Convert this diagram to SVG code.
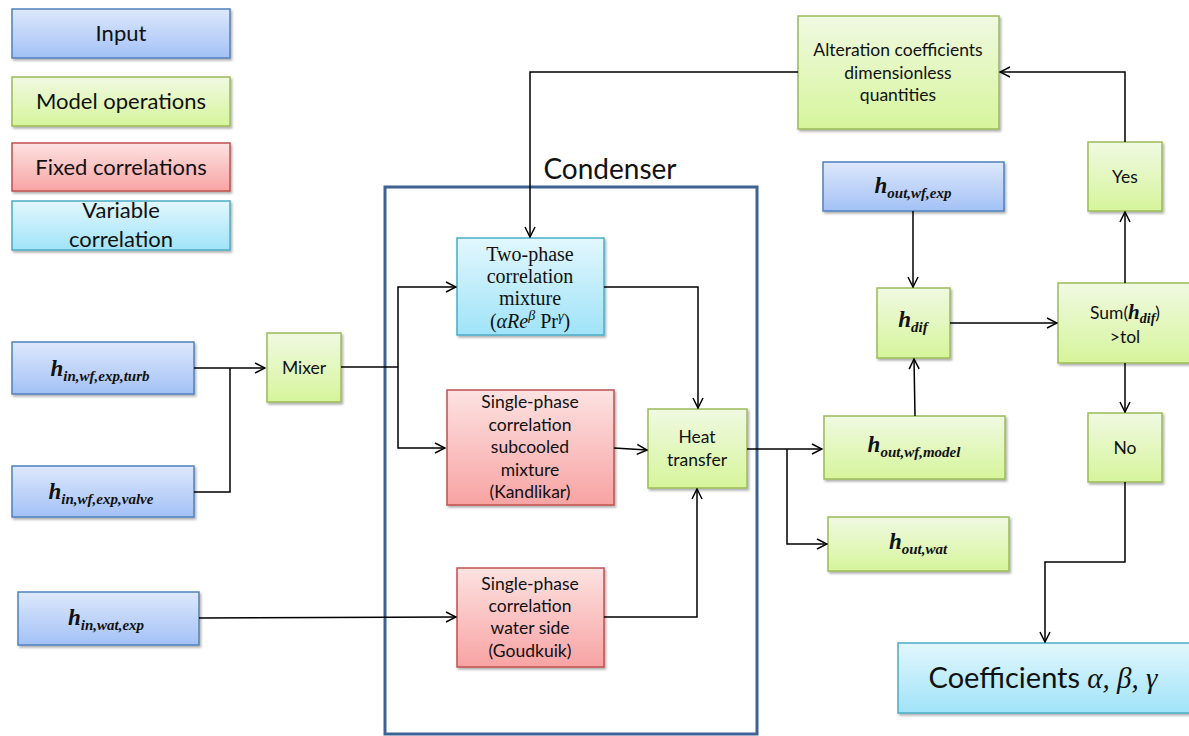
<svg xmlns="http://www.w3.org/2000/svg" width="1189" height="736" viewBox="0 0 1189 736">
<defs>
<linearGradient id="gBlue" x1="0" y1="0" x2="0" y2="1"><stop offset="0" stop-color="#dde8fc"/><stop offset="1" stop-color="#a3c1f6"/></linearGradient>
<linearGradient id="gGreen" x1="0" y1="0" x2="0" y2="1"><stop offset="0" stop-color="#f0f9e2"/><stop offset="1" stop-color="#d6f59b"/></linearGradient>
<linearGradient id="gRed" x1="0" y1="0" x2="0" y2="1"><stop offset="0" stop-color="#fde2e2"/><stop offset="1" stop-color="#f8a3a3"/></linearGradient>
<linearGradient id="gCyan" x1="0" y1="0" x2="0" y2="1"><stop offset="0" stop-color="#e2f7fd"/><stop offset="1" stop-color="#a0e3f8"/></linearGradient>
<filter id="sh" x="-10%" y="-10%" width="120%" height="130%"><feDropShadow dx="1.5" dy="2" stdDeviation="1.2" flood-color="#000" flood-opacity="0.3"/></filter>
<marker id="ar" viewBox="0 0 12 12" refX="11" refY="6" markerWidth="12" markerHeight="12" markerUnits="userSpaceOnUse" orient="auto"><path d="M1,1 L11,6 L1,11" fill="none" stroke="#000" stroke-width="1.5"/></marker>
</defs>
<style>
.b{fill:url(#gBlue);stroke:#4f81bd;stroke-width:1.5;filter:url(#sh)}
.g{fill:url(#gGreen);stroke:#9bbb59;stroke-width:1.5;filter:url(#sh)}
.r{fill:url(#gRed);stroke:#c0504d;stroke-width:1.5;filter:url(#sh)}
.c{fill:url(#gCyan);stroke:#4bacc6;stroke-width:1.5;filter:url(#sh)}
text{fill:#111}
.t{font-family:Lato,"Liberation Sans",sans-serif;font-size:17.5px;text-anchor:middle}
.lg{font-family:Lato,"Liberation Sans",sans-serif;font-size:22px;text-anchor:middle}
.sf{font-family:"Liberation Serif",serif;font-size:20px;text-anchor:middle}
.m{font-family:"Liberation Serif",serif;font-weight:bold;font-style:italic;text-anchor:middle}
.mh{font-size:23px}
.ms{font-size:15px}
.con path{fill:none;stroke:#000;stroke-width:1.5}
</style>
<rect width="1189" height="736" fill="#fff"/>

<g id="legend-input"><rect class="b" x="12" y="9" width="218" height="49"/><text class="lg" x="121" y="41">Input</text></g>
<g id="legend-model"><rect class="g" x="12" y="77" width="218" height="49"/><text class="lg" x="121" y="109">Model operations</text></g>
<g id="legend-fixed"><rect class="r" x="12" y="143" width="218" height="48"/><text class="lg" x="121" y="175">Fixed correlations</text></g>
<g id="legend-variable"><rect class="c" x="12" y="201" width="218" height="49"/><text class="lg" x="121" y="218">Variable</text><text class="lg" x="121" y="247">correlation</text></g>

<g id="condenser"><rect x="385" y="187" width="372" height="547" fill="none" stroke="#3f6294" stroke-width="3"/><text x="610" y="179" font-family="Lato,'Liberation Sans',sans-serif" font-size="28" text-anchor="middle">Condenser</text></g>

<g id="in-turb"><rect class="b" x="12" y="342" width="182" height="52"/><text class="m" x="100" y="376"><tspan class="mh">h</tspan><tspan class="ms" dy="5">in,wf,exp,turb</tspan></text></g>
<g id="in-valve"><rect class="b" x="12" y="466" width="182" height="51"/><text class="m" x="101" y="499"><tspan class="mh">h</tspan><tspan class="ms" dy="5">in,wf,exp,valve</tspan></text></g>
<g id="in-wat"><rect class="b" x="18" y="592" width="181" height="53"/><text class="m" x="106" y="625"><tspan class="mh">h</tspan><tspan class="ms" dy="5">in,wat,exp</tspan></text></g>
<g id="mixer"><rect class="g" x="267" y="333" width="74" height="69"/><text class="t" x="304" y="374" font-size="18.5">Mixer</text></g>

<g id="two-phase"><rect class="c" x="457" y="238" width="147" height="97"/>
<text class="sf" x="530" y="261">Two-phase</text><text class="sf" x="530" y="283">correlation</text><text class="sf" x="530" y="305">mixture</text>
<text class="sf" x="530" y="328">(<tspan font-style="italic">αRe</tspan><tspan font-style="italic" font-size="14" dy="-8">β</tspan><tspan dy="8"> Pr</tspan><tspan font-style="italic" font-size="14" dy="-7">γ</tspan><tspan dy="7">)</tspan></text></g>
<g id="single-subcooled"><rect class="r" x="447" y="390" width="167" height="115"/>
<text class="t" x="530" y="408">Single-phase</text><text class="t" x="530" y="431">correlation</text><text class="t" x="530" y="453">subcooled</text><text class="t" x="530" y="476">mixture</text><text class="t" x="530" y="498">(Kandlikar)</text></g>
<g id="single-water"><rect class="r" x="457" y="568" width="147" height="99"/>
<text class="t" x="530" y="590">Single-phase</text><text class="t" x="530" y="612">correlation</text><text class="t" x="530" y="634">water side</text><text class="t" x="530" y="657">(Goudkuik)</text></g>
<g id="heat-transfer"><rect class="g" x="648" y="409" width="99" height="79"/><text class="t" x="697" y="443">Heat</text><text class="t" x="697" y="466">transfer</text></g>

<g id="alteration"><rect class="g" x="798" y="16" width="201" height="113"/>
<text class="t" x="898" y="56">Alteration coefficients</text><text class="t" x="898" y="79">dimensionless</text><text class="t" x="898" y="101">quantities</text></g>
<g id="out-wf-exp"><rect class="b" x="823" y="162" width="181" height="49"/><text class="m" x="913" y="193"><tspan class="mh">h</tspan><tspan class="ms" dy="5">out,wf,exp</tspan></text></g>
<g id="h-dif"><rect class="g" x="877" y="288" width="73" height="70"/><text class="m" x="913" y="327"><tspan class="mh">h</tspan><tspan class="ms" dy="5">dif</tspan></text></g>
<g id="out-wf-model"><rect class="g" x="824" y="416" width="181" height="63"/><text class="m" x="914" y="452"><tspan class="mh">h</tspan><tspan class="ms" dy="5">out,wf,model</tspan></text></g>
<g id="out-wat"><rect class="g" x="828" y="517" width="181" height="54"/><text class="m" x="918" y="549"><tspan class="mh">h</tspan><tspan class="ms" dy="5">out,wat</tspan></text></g>
<g id="yes"><rect class="g" x="1088" y="142" width="74" height="69"/><text class="t" x="1125" y="183">Yes</text></g>
<g id="sum"><rect class="g" x="1058" y="283" width="134" height="80"/>
<text x="1125" y="319" text-anchor="middle" font-family="Lato,'Liberation Sans',sans-serif" font-size="17.5">Sum(<tspan font-family="'Liberation Serif',serif" font-weight="bold" font-style="italic" font-size="21">h</tspan><tspan font-family="'Liberation Serif',serif" font-weight="bold" font-style="italic" font-size="14" dy="4">dif</tspan><tspan dy="-4">)</tspan></text>
<text class="t" x="1125" y="343">&gt;tol</text></g>
<g id="no"><rect class="g" x="1088" y="413" width="74" height="69"/><text class="t" x="1125" y="454">No</text></g>
<g id="coefficients"><rect class="c" x="898" y="643" width="294" height="70"/>
<text x="1043" y="688" text-anchor="middle" font-family="Lato,'Liberation Sans',sans-serif" font-size="29">Coefficients<tspan font-family="'Liberation Serif',serif" font-style="italic"> α, β, γ</tspan></text></g>

<g id="connectors" class="con">
<path d="M194,368 L265,368" marker-end="url(#ar)"/>
<path d="M194,492 L230,492 L230,368"/>
<path d="M341,367 L398,367"/>
<path d="M398,367 L398,287 L456,287" marker-end="url(#ar)"/>
<path d="M398,367 L398,448 L445,448" marker-end="url(#ar)"/>
<path d="M604,287 L698,287 L698,408" marker-end="url(#ar)"/>
<path d="M614,448 L647,450" marker-end="url(#ar)"/>
<path d="M199,618 L456,617" marker-end="url(#ar)"/>
<path d="M604,617 L697,617 L697,489" marker-end="url(#ar)"/>
<path d="M747,449 L822,449" marker-end="url(#ar)"/>
<path d="M787,449 L787,544 L827,544" marker-end="url(#ar)"/>
<path d="M915,416 L914,359" marker-end="url(#ar)"/>
<path d="M913,211 L913,287" marker-end="url(#ar)"/>
<path d="M950,323 L1057,323" marker-end="url(#ar)"/>
<path d="M1125,283 L1125,212" marker-end="url(#ar)"/>
<path d="M1125,363 L1125,412" marker-end="url(#ar)"/>
<path d="M1125,142 L1125,72 L1000,72" marker-end="url(#ar)"/>
<path d="M798,72 L530,72 L530,237" marker-end="url(#ar)"/>
<path d="M1125,482 L1125,562 L1045,562 L1045,642" marker-end="url(#ar)"/>
</g>
</svg>
